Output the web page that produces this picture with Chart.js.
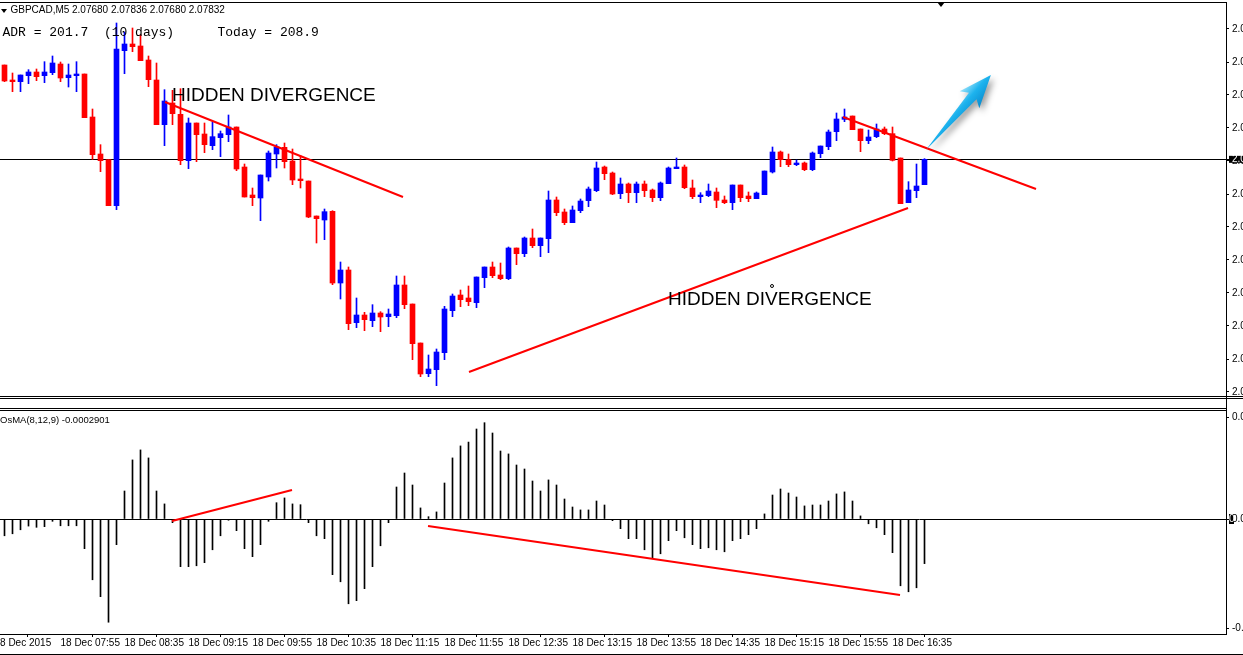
<!DOCTYPE html>
<html>
<head>
<meta charset="utf-8">
<script src="https://cdn.jsdelivr.net/npm/chart.js@4.4.1/dist/chart.umd.min.js"></script>
<style>
  html, body { margin: 0; padding: 0; width: 1243px; height: 655px; overflow: hidden; background: #fff; }
  #wrap { position: relative; width: 1243px; height: 655px; overflow: hidden; }
  canvas { position: absolute; left: 0; }
  #main { top: 0; }
  #osma { top: 400px; }
  .ln { position: absolute; background: #000; z-index: 4; }
  .txt { position: absolute; white-space: pre; color: #000; z-index: 5; }
  .small { font: 10px/10px "Liberation Sans", Arial, sans-serif; }
  .mono { font: 13px/13px "Liberation Mono", "Courier New", monospace; }
  .big { font: 19px/19px "Liberation Sans", Arial, sans-serif; }
  .tri { position: absolute; width: 0; height: 0; border-style: solid; border-color: #000 transparent transparent transparent; z-index: 5; }
  .anchor { position: absolute; width: 2px; height: 2px; border: 1px solid #000; border-radius: 50%; z-index: 5; }
</style>
</head>
<body>
<div id="wrap">
  <canvas id="main" width="1300" height="400"></canvas>
  <canvas id="osma" width="1300" height="255"></canvas>

  <div class="ln" style="left:0;top:2px;width:1227px;height:1px"></div>
  <div class="ln" style="left:0;top:396px;width:1243px;height:1px"></div>
  <div class="ln" style="left:0;top:398px;width:1243px;height:1px"></div>
  <div class="ln" style="left:0;top:408px;width:1227px;height:1px"></div>
  <div class="ln" style="left:0;top:410px;width:1227px;height:1px"></div>
  <div class="ln" style="left:1226px;top:396px;width:1px;height:14px"></div>
  <div class="ln" style="left:0;top:654px;width:1243px;height:1px"></div>

  <div class="tri" style="left:1px;top:9px;border-width:4px 3px 0 3px"></div>
  <div class="tri" style="left:937px;top:2px;border-width:5px 4px 0 4px"></div>
  <div class="txt small" style="left:10.5px;top:5px">GBPCAD,M5</div>
  <div class="txt small" style="left:72px;top:5px">2.07680 2.07836 2.07680 2.07832</div>
  <div class="txt mono" style="left:2.5px;top:26px">ADR = 201.7  (10 days)</div>
  <div class="txt mono" style="left:217.5px;top:26px">Today = 208.9</div>
  <div class="txt big" style="left:172px;top:85px">HIDDEN DIVERGENCE</div>
  <div class="txt big" style="left:668px;top:289px">HIDDEN DIVERGENCE</div>
  <div class="anchor" style="left:769.5px;top:284px"></div>
  <div class="txt small" style="left:0;top:415px;font-size:9.5px">OsMA(8,12,9) -0.0002901</div>
</div>

<script>
// GBPCAD M5, 18 Dec 2015, one candle every 5 minutes (bar 0 = 07:20)
const OPEN = [
  2.08398, 2.08308, 2.08298, 2.08334, 2.08356, 2.08334, 2.08352, 2.08404, 2.08322, 2.08334,
  2.08344, 2.08086, 2.07864, 2.07830, 2.07554, 2.08484, 2.08524, 2.08512, 2.08428, 2.08308,
  2.08040, 2.08170, 2.08102, 2.07824, 2.08050, 2.07984, 2.07914, 2.07962, 2.07980, 2.08026,
  2.07786, 2.07618, 2.07600, 2.07726, 2.07864, 2.07904, 2.07822, 2.07714, 2.07702, 2.07492,
  2.07468, 2.07520, 2.07090, 2.07168, 2.06852, 2.06898, 2.06864, 2.06910, 2.06888, 2.06894,
  2.07078, 2.06964, 2.06730, 2.06546, 2.06570, 2.06672, 2.06924, 2.07018, 2.07000, 2.06972,
  2.07122, 2.07186, 2.07138, 2.07116, 2.07300, 2.07266, 2.07360, 2.07314, 2.07356, 2.07588,
  2.07516, 2.07452, 2.07524, 2.07584, 2.07644, 2.07786, 2.07750, 2.07626, 2.07684, 2.07632,
  2.07684, 2.07648, 2.07602, 2.07686, 2.07776, 2.07786, 2.07660, 2.07608, 2.07614, 2.07636,
  2.07588, 2.07572, 2.07678, 2.07612, 2.07596, 2.07620, 2.07756, 2.07876, 2.07830, 2.07800,
  2.07810, 2.07770, 2.07866, 2.07908, 2.07998, 2.08072, 2.08092, 2.08014, 2.07944, 2.07968,
  2.08014, 2.07986, 2.07840, 2.07572, 2.07644, 2.07680
];
const HIGH = [
  2.08398, 2.08350, 2.08338, 2.08370, 2.08374, 2.08418, 2.08452, 2.08416, 2.08404, 2.08418,
  2.08344, 2.08134, 2.07920, 2.07830, 2.08650, 2.08596, 2.08620, 2.08580, 2.08452, 2.08410,
  2.08250, 2.08246, 2.08256, 2.08080, 2.08050, 2.08050, 2.08056, 2.08002, 2.08098, 2.08026,
  2.07804, 2.07660, 2.07738, 2.07882, 2.07920, 2.07930, 2.07894, 2.07854, 2.07702, 2.07492,
  2.07534, 2.07524, 2.07216, 2.07186, 2.07000, 2.06914, 2.06960, 2.06918, 2.06934, 2.07132,
  2.07132, 2.06964, 2.06730, 2.06658, 2.06694, 2.06950, 2.07024, 2.07048, 2.07072, 2.07126,
  2.07186, 2.07216, 2.07210, 2.07306, 2.07300, 2.07366, 2.07414, 2.07360, 2.07642, 2.07606,
  2.07534, 2.07552, 2.07594, 2.07666, 2.07816, 2.07792, 2.07756, 2.07720, 2.07690, 2.07696,
  2.07702, 2.07654, 2.07696, 2.07786, 2.07840, 2.07798, 2.07708, 2.07632, 2.07684, 2.07660,
  2.07612, 2.07678, 2.07678, 2.07636, 2.07636, 2.07762, 2.07906, 2.07882, 2.07864, 2.07828,
  2.07816, 2.07876, 2.07912, 2.08008, 2.08110, 2.08134, 2.08092, 2.08014, 2.08008, 2.08044,
  2.08026, 2.08026, 2.07840, 2.07698, 2.07804, 2.07836
];
const LOW = [
  2.08298, 2.08238, 2.08238, 2.08286, 2.08304, 2.08292, 2.08340, 2.08298, 2.08266, 2.08238,
  2.08082, 2.07832, 2.07758, 2.07554, 2.07530, 2.08346, 2.08478, 2.08424, 2.08268, 2.08040,
  2.07914, 2.08040, 2.07800, 2.07776, 2.07818, 2.07872, 2.07890, 2.07848, 2.07938, 2.07764,
  2.07606, 2.07554, 2.07464, 2.07702, 2.07780, 2.07780, 2.07680, 2.07660, 2.07482, 2.07330,
  2.07350, 2.07080, 2.06994, 2.06810, 2.06822, 2.06804, 2.06828, 2.06798, 2.06828, 2.06882,
  2.06936, 2.06630, 2.06528, 2.06528, 2.06474, 2.06630, 2.06888, 2.06948, 2.06954, 2.06942,
  2.07062, 2.07122, 2.07110, 2.07110, 2.07200, 2.07248, 2.07302, 2.07248, 2.07272, 2.07494,
  2.07440, 2.07452, 2.07512, 2.07548, 2.07638, 2.07710, 2.07620, 2.07596, 2.07572, 2.07572,
  2.07608, 2.07578, 2.07584, 2.07686, 2.07776, 2.07656, 2.07596, 2.07572, 2.07608, 2.07542,
  2.07566, 2.07530, 2.07578, 2.07578, 2.07596, 2.07620, 2.07750, 2.07788, 2.07788, 2.07794,
  2.07764, 2.07764, 2.07842, 2.07890, 2.07944, 2.08058, 2.08010, 2.07878, 2.07926, 2.07962,
  2.07980, 2.07822, 2.07566, 2.07572, 2.07602, 2.07680
];
const CLOSE = [
  2.08302, 2.08298, 2.08338, 2.08356, 2.08328, 2.08356, 2.08410, 2.08320, 2.08338, 2.08344,
  2.08082, 2.07860, 2.07824, 2.07554, 2.08494, 2.08524, 2.08508, 2.08424, 2.08310, 2.08040,
  2.08182, 2.08106, 2.07824, 2.08050, 2.07980, 2.07920, 2.07968, 2.07986, 2.08026, 2.07774,
  2.07606, 2.07602, 2.07738, 2.07870, 2.07906, 2.07818, 2.07708, 2.07704, 2.07486, 2.07476,
  2.07518, 2.07090, 2.07168, 2.06846, 2.06898, 2.06870, 2.06910, 2.06886, 2.06904, 2.07078,
  2.06960, 2.06726, 2.06544, 2.06574, 2.06676, 2.06934, 2.07012, 2.06990, 2.06978, 2.07126,
  2.07186, 2.07134, 2.07116, 2.07300, 2.07266, 2.07360, 2.07314, 2.07360, 2.07588, 2.07512,
  2.07452, 2.07528, 2.07582, 2.07654, 2.07780, 2.07746, 2.07624, 2.07684, 2.07632, 2.07684,
  2.07644, 2.07602, 2.07690, 2.07780, 2.07786, 2.07662, 2.07608, 2.07618, 2.07642, 2.07586,
  2.07572, 2.07678, 2.07602, 2.07596, 2.07630, 2.07762, 2.07876, 2.07830, 2.07800, 2.07810,
  2.07770, 2.07870, 2.07912, 2.07996, 2.08074, 2.08086, 2.08010, 2.07944, 2.07966, 2.08014,
  2.07986, 2.07826, 2.07566, 2.07648, 2.07672, 2.07832
];
// OsMA(8,12,9) histogram, same bars
const OSMA = [
  -0.000109, -0.000096, -0.000070, -0.000046, -0.000054, -0.000050, -0.000015, -0.000044, -0.000044, -0.000044,
  -0.000193, -0.000395, -0.000505, -0.000671, -0.000167, 0.000182, 0.000384, 0.000449, 0.000397, 0.000182,
  0.000098, -0.000024, -0.000310, -0.000310, -0.000304, -0.000284, -0.000200, -0.000109, -0.000008, -0.000076,
  -0.000193, -0.000245, -0.000167, -0.000015, 0.000106, 0.000137, 0.000098, 0.000093, -0.000024, -0.000109,
  -0.000128, -0.000362, -0.000408, -0.000551, -0.000531, -0.000453, -0.000310, -0.000174, -0.000024, 0.000208,
  0.000299, 0.000221, 0.000072, 0.000015, 0.000046, 0.000234, 0.000397, 0.000475, 0.000500, 0.000585,
  0.000626, 0.000559, 0.000442, 0.000423, 0.000351, 0.000325, 0.000247, 0.000182, 0.000254, 0.000221,
  0.000130, 0.000078, 0.000059, 0.000059, 0.000117, 0.000091, -0.000011, -0.000063, -0.000128, -0.000128,
  -0.000200, -0.000252, -0.000226, -0.000141, -0.000076, -0.000122, -0.000167, -0.000193, -0.000187, -0.000200,
  -0.000213, -0.000141, -0.000128, -0.000102, -0.000063, 0.000033, 0.000156, 0.000195, 0.000169, 0.000143,
  0.000085, 0.000091, 0.000091, 0.000117, 0.000163, 0.000176, 0.000117, 0.000020, -0.000031, -0.000057,
  -0.000102, -0.000219, -0.000434, -0.000473, -0.000447, -0.0002901
];

const TIME_TICKS = [-1.25, 7, 15, 23, 31, 39, 47, 55, 63, 71, 79, 87, 95, 103, 111];
const TIME_LABELS = [
  "18 Dec 2015", "18 Dec 07:55", "18 Dec 08:35", "18 Dec 09:15", "18 Dec 09:55",
  "18 Dec 10:35", "18 Dec 11:15", "18 Dec 11:55", "18 Dec 12:35", "18 Dec 13:15",
  "18 Dec 13:55", "18 Dec 14:35", "18 Dec 15:15", "18 Dec 15:55", "18 Dec 16:35"
];
const PRICE_TICKS = [2.08614, 2.08416, 2.08218, 2.08020, 2.07822, 2.07624, 2.07426, 2.07228, 2.07030, 2.06832, 2.06634, 2.06436];
const BID = 2.07832;
const OSMA_TICKS = [0.000663, 0, -0.000709];

// hand-drawn objects: [from, to] in [bar, value]
const PRICE_TRENDS = [
  [[20.06, 2.08176], [49.81, 2.07606]],
  [[58.06, 2.06556], [112.94, 2.07540]],
  [[104.81, 2.08086], [128.94, 2.07654]]
];
const OSMA_TRENDS = [
  [[20.94, -0.000013], [35.94, 0.000189]],
  [[52.94, -0.0000455], [111.94, -0.000494]]
];
const ARROW = [[115.2, 2.07890], [123.3, 2.08338]];

const X_MIN = -0.5625, X_MAX = 152.6875;
const PRICE_MIN = 2.06412, PRICE_MAX = 2.08776;
const OSMA_MIN = -0.0007475, OSMA_MAX = 0.0007085;

Chart.defaults.font.family = '"Liberation Sans", Arial, sans-serif';
Chart.defaults.font.size = 10;
Chart.defaults.color = '#000';

const RED = '#ff0000', BLUE = '#0000ff';
const AXIS_W = 74;

function fixAxis(width, height) {
  return (s) => {
    if (width) s.width = width;
    if (height) s.height = height;
    s.paddingLeft = 0; s.paddingRight = 0; s.paddingTop = 0; s.paddingBottom = 0;
  };
}

function hline(id, value) {
  return {
    id,
    beforeDatasetsDraw(chart) {
      const { ctx, chartArea, scales } = chart;
      const py = Math.round(scales.y.getPixelForValue(value)) + 0.5;
      ctx.save();
      ctx.strokeStyle = '#000';
      ctx.lineWidth = 1;
      ctx.beginPath();
      ctx.moveTo(chartArea.left, py);
      ctx.lineTo(chartArea.right, py);
      ctx.stroke();
      ctx.restore();
    }
  };
}

const arrowPlugin = {
  id: 'arrow',
  afterDatasetsDraw(chart) {
    const { ctx, scales } = chart;
    const x0 = scales.x.getPixelForValue(ARROW[0][0]), y0 = scales.y.getPixelForValue(ARROW[0][1]);
    const x1 = scales.x.getPixelForValue(ARROW[1][0]), y1 = scales.y.getPixelForValue(ARROW[1][1]);
    const len = Math.hypot(x1 - x0, y1 - y0);
    const hb = len * 0.72;
    ctx.save();
    ctx.translate(x0, y0);
    ctx.rotate(Math.atan2(y1 - y0, x1 - x0));
    ctx.shadowColor = 'rgba(0,0,0,0.38)';
    ctx.shadowBlur = 6;
    ctx.shadowOffsetX = 3;
    ctx.shadowOffsetY = 4;
    const g = ctx.createLinearGradient(0, -13, 0, 13);
    g.addColorStop(0, '#9be3fb');
    g.addColorStop(0.45, '#1db3ee');
    g.addColorStop(1, '#0a8ccf');
    ctx.fillStyle = g;
    ctx.beginPath();
    ctx.moveTo(0, 0);
    ctx.lineTo(hb, -5);
    ctx.lineTo(hb - 5, -13);
    ctx.lineTo(len, 0);
    ctx.lineTo(hb - 5, 13);
    ctx.lineTo(hb, 5);
    ctx.closePath();
    ctx.fill();
    ctx.restore();
  }
};

const zeroBox = {
  id: 'zeroBox',
  afterDraw(chart) {
    const { ctx, chartArea, scales } = chart;
    const py = Math.round(scales.y.getPixelForValue(0));
    const left = chartArea.right + 3;
    ctx.save();
    ctx.beginPath();
    ctx.rect(left, py - 5, 5, 10);
    ctx.clip();
    ctx.fillStyle = '#000';
    ctx.fillRect(left, py - 5, 5, 10);
    ctx.fillStyle = '#fff';
    ctx.textBaseline = 'middle';
    ctx.font = '10px "Liberation Sans", Arial, sans-serif';
    ctx.fillText('0', left, py);
    ctx.restore();
  }
};

function trendSets(list) {
  return list.map(([a, b]) => ({
    type: 'line',
    data: [{ x: a[0], y: a[1] }, { x: b[0], y: b[1] }],
    borderColor: RED,
    borderWidth: 2,
    pointRadius: 0,
    order: 0
  }));
}

const candleColor = OPEN.map((o, i) => (CLOSE[i] >= o ? BLUE : RED));
const bodyData = OPEN.map((o, i) => ({ x: i, y: [o, CLOSE[i]] }));
const wickData = OPEN.map((o, i) => ({ x: i, y: [LOW[i], HIGH[i]] }));

const common = {
  responsive: false,
  animation: false,
  devicePixelRatio: 1,
  events: [],
  plugins: { legend: { display: false }, tooltip: { enabled: false } }
};

new Chart(document.getElementById('main'), {
  type: 'bar',
  data: {
    datasets: [
      ...trendSets(PRICE_TRENDS),
      { data: bodyData, backgroundColor: candleColor, barThickness: 5, grouped: false, minBarLength: 1, order: 1 },
      { data: wickData, backgroundColor: candleColor, barThickness: 1, grouped: false, order: 2 }
    ]
  },
  options: {
    ...common,
    layout: { padding: { top: 2, bottom: 4, left: 0, right: 0 } },
    scales: {
      x: { type: 'linear', display: false, min: X_MIN, max: X_MAX, offset: false },
      y: {
        position: 'right',
        min: PRICE_MIN,
        max: PRICE_MAX,
        beginAtZero: false,
        afterBuildTicks: (s) => { s.ticks = PRICE_TICKS.concat([BID]).map((v) => ({ value: v })); },
        afterFit: fixAxis(AXIS_W, 0),
        border: { display: true, color: '#000', width: 1 },
        grid: { drawOnChartArea: false, drawTicks: true, tickLength: 3, color: '#000' },
        ticks: {
          autoSkip: false,
          padding: 3,
          callback: (v) => v.toFixed(5),
          color: (c) => (c.tick && c.tick.value === BID ? '#fff' : '#000'),
          showLabelBackdrop: (c) => !!(c.tick && c.tick.value === BID),
          backdropColor: '#000',
          backdropPadding: { top: -2.5, bottom: -2.5, left: 3, right: 2 }
        }
      }
    }
  },
  plugins: [hline('bidLine', BID), arrowPlugin]
});

new Chart(document.getElementById('osma'), {
  type: 'bar',
  data: {
    datasets: [
      ...trendSets(OSMA_TRENDS),
      { data: OSMA.map((v, i) => ({ x: i, y: v })), backgroundColor: '#000', barThickness: 1, grouped: false, order: 1 }
    ]
  },
  options: {
    ...common,
    layout: { padding: { top: 10, bottom: 0, left: 0, right: 0 } },
    scales: {
      x: {
        type: 'linear',
        position: 'bottom',
        min: X_MIN,
        max: X_MAX,
        offset: false,
        afterBuildTicks: (s) => { s.ticks = TIME_TICKS.map((v) => ({ value: v })); },
        afterFit: fixAxis(0, 21),
        border: { display: true, color: '#000', width: 1 },
        grid: { drawOnChartArea: false, drawTicks: true, tickLength: 3, color: '#000' },
        ticks: {
          autoSkip: false,
          minRotation: 0,
          maxRotation: 0,
          align: 'start',
          padding: 0,
          callback: (v, i) => TIME_LABELS[i]
        }
      },
      y: {
        position: 'right',
        min: OSMA_MIN,
        max: OSMA_MAX,
        beginAtZero: false,
        afterBuildTicks: (s) => { s.ticks = OSMA_TICKS.map((v) => ({ value: v })); },
        afterFit: fixAxis(AXIS_W, 0),
        border: { display: true, color: '#000', width: 1 },
        grid: { drawOnChartArea: false, drawTicks: true, tickLength: 3, color: '#000' },
        ticks: { autoSkip: false, padding: 3, callback: (v) => v.toFixed(6) }
      }
    }
  },
  plugins: [hline('zeroLine', 0), zeroBox]
});
</script>
</body>
</html>
